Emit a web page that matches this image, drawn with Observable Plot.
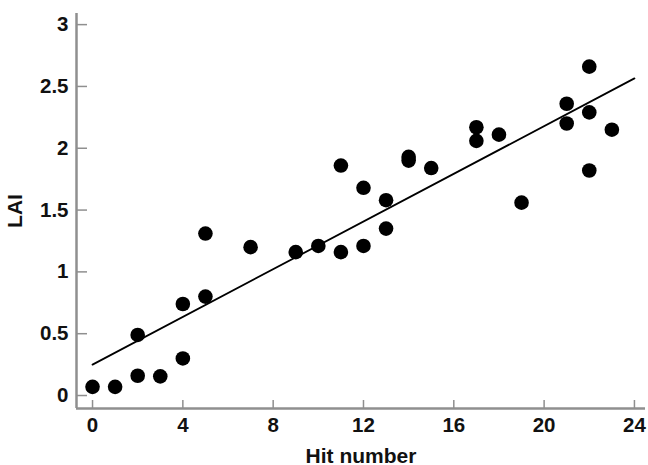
<!DOCTYPE html>
<html>
<head>
<meta charset="utf-8">
<script src="https://cdn.jsdelivr.net/npm/d3@7"></script>
<script src="https://cdn.jsdelivr.net/npm/@observablehq/plot@0.6"></script>
<style>
  html, body { margin: 0; padding: 0; background: #fff; }
  svg { font-family: "Liberation Sans", Arial, sans-serif; }
</style>
</head>
<body>
<div id="chart"></div>
<script>
const hits = [0, 1, 2, 2, 3, 4, 4, 5, 5, 7, 9, 10, 11, 11, 12, 12, 13, 13, 14, 14, 15, 17, 17, 18, 19, 21, 21, 22, 22, 22, 23];
const lai  = [0.07, 0.07, 0.16, 0.49, 0.155, 0.30, 0.74, 0.80, 1.31, 1.20, 1.16, 1.21, 1.16, 1.86, 1.21, 1.68, 1.35, 1.58, 1.90, 1.93, 1.84, 2.06, 2.17, 2.11, 1.56, 2.20, 2.36, 1.82, 2.29, 2.66, 2.15];
const fitX = [0, 24];
const fitY = [0.25, 2.565];
const xTicks = [0, 4, 8, 12, 16, 20, 24];
const yTicks = [0, 0.5, 1, 1.5, 2, 2.5, 3];
const xDomain = [-0.71, 24.49];
const yDomain = [-0.105, 3.09];

const W = 648, H = 465, mL = 76, mR = 3, mT = 13, mB = 57;
const plotW = W - mL - mR, plotH = H - mT - mB;
const axisColor = "#8f8f8f";
const textColor = "#111";

const points = hits.map((h, i) => ({x: h, y: lai[i]}));
const fit = fitX.map((x, i) => ({x, y: fitY[i]}));

const chart = Plot.plot({
  width: W, height: H,
  marginLeft: mL, marginRight: mR, marginTop: mT, marginBottom: mB,
  x: {domain: xDomain},
  y: {domain: yDomain},
  marks: [
    Plot.ruleX([xDomain[0]], {stroke: axisColor, strokeWidth: 2.5}),
    Plot.ruleY([yDomain[0]], {stroke: axisColor, strokeWidth: 2.5}),
    Plot.tickY(yTicks, {y: d => d, stroke: axisColor, strokeWidth: 1.5, insetRight: plotW - 11}),
    Plot.tickX(xTicks, {x: d => d, stroke: axisColor, strokeWidth: 1.5, insetTop: plotH - 8}),
    Plot.axisY({ticks: yTicks, tickSize: 0, tickPadding: 8, tickFormat: d => String(d), label: null, fontSize: 20.5, fontWeight: "bold", fill: textColor}),
    Plot.axisY({ticks: [], tickSize: 0, label: "LAI", labelAnchor: "center", labelArrow: "none", labelOffset: 69, fontSize: 21, fontWeight: "bold", fill: textColor}),
    Plot.axisX({ticks: xTicks, tickSize: 0, tickPadding: 9, tickFormat: d => String(d), label: null, fontSize: 20.5, fontWeight: "bold", fill: textColor}),
    Plot.axisX({ticks: [], tickSize: 0, label: "Hit number", labelAnchor: "center", labelArrow: "none", labelOffset: 54, fontSize: 21, fontWeight: "bold", fill: textColor}),
    Plot.line(fit, {x: "x", y: "y", stroke: "#000", strokeWidth: 1.8}),
    Plot.dot(points, {x: "x", y: "y", r: 7.3, fill: "#000", stroke: "none"})
  ]
});
document.getElementById("chart").appendChild(chart);
</script>
</body>
</html>
